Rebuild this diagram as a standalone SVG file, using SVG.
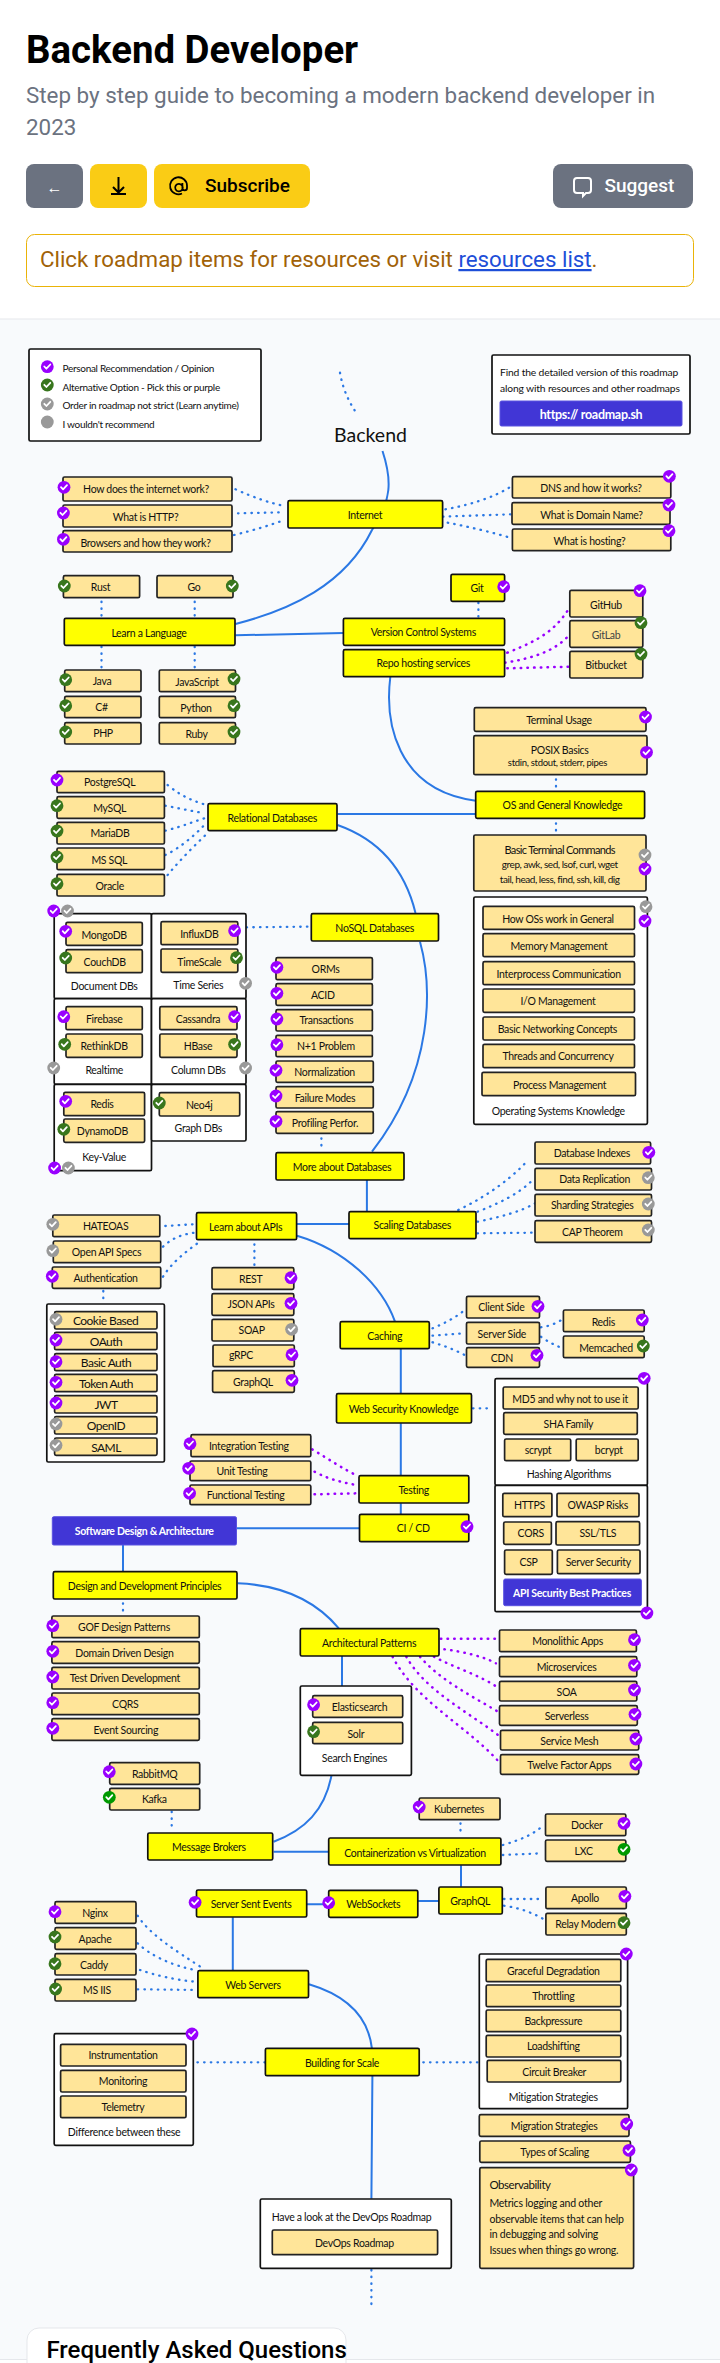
<svg xmlns="http://www.w3.org/2000/svg" width="720" height="2363" viewBox="0 0 720 2363">
<style>
text{font-family:Lato,"Liberation Sans",sans-serif;font-size:10.500px;letter-spacing:-.3px;fill:#111;text-anchor:middle;dominant-baseline:central}
.r{font-family:Roboto,"Liberation Sans",sans-serif;text-anchor:start;dominant-baseline:auto;letter-spacing:0}
.s{text-anchor:start}
.lg{font-size:10px}
.rb{font-size:10.300px;letter-spacing:-.15px}
.au{font-size:12px;letter-spacing:-.55px}
.ob{letter-spacing:-.2px}
.wh{fill:#fff;font-weight:700}
rect.y,rect.t,rect.w,rect.b{stroke-width:1.7;rx:1.5px}
rect.y{fill:#ff0;stroke:#111}
rect.t{fill:#ffe599;stroke:#222}
rect.w{fill:#fff;stroke:#111}
rect.b{fill:#4136d6;stroke:#5b52e0;stroke-width:1}
.sl{fill:none;stroke:#2b78e4;stroke-width:2}
.db{fill:none;stroke:#2b78e4;stroke-width:2.300;stroke-linecap:round;stroke-dasharray:.5 6.200}
.dp{fill:none;stroke:#90f;stroke-width:2.500;stroke-linecap:round;stroke-dasharray:.5 6.200}
.tk{fill:none;stroke:#fff;stroke-width:1.800;stroke-linecap:round;stroke-linejoin:round}
</style>
<defs>
<g id="p"><circle r="6.400" fill="#90f"/><path class="tk" d="M-3-.2-.9 2 3-2.200"/></g>
<g id="g"><circle r="6.400" fill="#38761d"/><path class="tk" d="M-3-.2-.9 2 3-2.200"/></g>
<g id="h"><circle r="6.400" fill="#090"/><path class="tk" d="M-3-.2-.9 2 3-2.200"/></g>
<g id="x"><circle r="6.400" fill="#999"/><path class="tk" d="M-3-.2-.9 2 3-2.200"/></g>
</defs>
<rect width="720" height="2363" fill="#fff"/>
<rect y="319" width="720" height="2040" fill="#f8fafc"/>
<path d="M0 319H720M0 2359.500H720" stroke="#e5e7eb" stroke-width="1" fill="none"/>
<g id="header">
<text class="r" x="26" y="63" style="font-size:38.400px;font-weight:700;fill:#000">Backend Developer</text>
<text class="r" x="26" y="103" style="font-size:22.400px;fill:#6b7280">Step by step guide to becoming a modern backend developer in</text>
<text class="r" x="26" y="135" style="font-size:22.400px;fill:#6b7280">2023</text>
<rect x="26" y="164" width="57" height="44" rx="8" fill="#6b7280"/>
<text x="54.500" y="187" style="font-family:Roboto,sans-serif;font-size:16px;fill:#fff;letter-spacing:0">←</text>
<rect x="90" y="164" width="57" height="44" rx="8" fill="#facc15"/>
<path d="M118.500 177V192M113 187l5.500 5.500L124 187M111 194H126" fill="none" stroke="#000" stroke-width="2"/>
<rect x="154" y="164" width="156" height="44" rx="8" fill="#facc15"/>
<path d="M186 192.500A8.500 8.500 0 1 1 191 184.500V187A2.300 2.300 0 0 1 186.400 187V182M186.400 185A3.800 3.800 0 1 1 186.300 184.800" fill="none" stroke="#000" stroke-width="1.800" transform="translate(-4 1)"/>
<text class="r" x="205" y="192" style="font-size:19px;font-weight:500;fill:#000">Subscribe</text>
<rect x="553" y="164" width="140" height="44" rx="8" fill="#6b7280"/>
<path d="M577 178H588A3 3 0 0 1 591 181V190A3 3 0 0 1 588 193H586L583 196V193H577A3 3 0 0 1 574 190V181A3 3 0 0 1 577 178Z" fill="none" stroke="#fff" stroke-width="2"/>
<text class="r" x="604.500" y="192" style="font-size:19px;font-weight:500;fill:#fff">Suggest</text>
<rect x="26.500" y="234.500" width="667" height="52" rx="8" fill="#fff" stroke="#eab308"/>
<text class="r" x="40" y="267" style="font-size:22.300px;fill:#a16207">Click roadmap items for resources or visit <tspan style="fill:#1d4ed8" text-decoration="underline">resources list</tspan>.</text>
</g>
<g id="connectors">
<path class="db" d="M340 372.700C343 390 349 402 357 414"/>
<path class="sl" d="M382.500 451C392 480 392 500 372 530C345 585 290 610 235.500 624"/>
<path class="db" d="M235.500 489.300C255 498 270 503 284.700 506M238 513.300 284.700 512.300M234 535C255 530 270 525 284.700 520"/>
<path class="db" d="M445.400 509.300C470 505 495 497 510.500 486.700M443 516.700 510.500 514.300M447.700 522.700C470 527 495 533 512 538.300"/>
<path class="db" d="M101.500 601.700V617M194.700 601.700V617M101.500 646.700V669.300M194.700 646.700V669.300M478.400 602.700V617.700M556 779.300V790M556 823.300V833.300"/>
<path class="sl" d="M235.500 635.300 343.400 633M390.300 677C385 720 395 790 475.700 800.700M337.500 814H475.700"/>
<path class="dp" d="M507.300 652.700C540 640 555 630 568 610M505 662.700C535 658 555 650 567 637.300M507.300 668.300 569.300 666.700"/>
<path class="db" d="M167.600 785C180 795 190 800 204.300 804.300M165.300 805.700 204.300 813.300M165.300 830.700C180 827 190 823 204.300 818.300M165.300 855C180 848 195 835 204.300 825M167.600 875C180 860 195 845 209 831.700M246.600 927.300 307.600 926.700"/>
<path class="sl" d="M337.500 825C380 840 405 870 415.500 913M420 941.700C432 985 435 1070 372 1151.700M366.900 1180V1211.700"/>
<path class="db" d="M321.400 1138.300V1149.300M458.200 1210C490 1195 515 1175 528 1160M477.500 1211.700C500 1203 520 1193 532.600 1180M477.500 1221.700C500 1217 520 1212 535 1203.300M477.500 1233.300 532.600 1232.700"/>
<path class="sl" d="M349 1224H297M297 1235.700C345 1250 382 1285 395 1321.700"/>
<path class="db" d="M165.300 1226 192.800 1224.300M163 1246.700C172 1238 183 1234 195 1232.700M163 1276.700C172 1262 188 1250 199.700 1241.700M103.300 1291V1301.700M254.400 1244.300V1266.700"/>
<path class="db" d="M432.500 1328.300C445 1323 455 1318 464.700 1310M432.500 1335.700 464.700 1333.300M432.500 1342.300C445 1346 455 1350 464.700 1355M540.900 1327.300C550 1326 557 1323 562.400 1319.300M540.900 1336.700C548 1342 555 1345 562.400 1348.300M473 1408.300H489.400"/>
<path class="sl" d="M400.800 1348.700V1393.300M400.800 1423.300V1475.700M400.800 1503.300V1514M236.500 1528.300H359.500M123 1545V1571"/>
<path class="dp" d="M312.200 1449.300C330 1460 345 1470 358 1476M314.500 1471.700C330 1480 345 1483 358 1485.300M314.500 1494.300 358 1493.300"/>
<path class="db" d="M123 1603.300V1613.300M171.700 1811.700V1830M460.500 1823.300V1835"/>
<path class="sl" d="M237.800 1583.300C280 1585 315 1600 338.800 1628.300M342 1656V1686M331.500 1775.300C325 1810 305 1830 273.600 1841.700M273.600 1851.700H328.700M461 1865.300V1886.700M417.800 1901H438.900M306.700 1904.300H328.700M232.800 1917.300V1970"/>
<path class="dp" d="M440.800 1638.700H495M444.400 1649.300C465 1652 485 1657 495.900 1663.300M433.900 1656.700C455 1668 480 1675 499 1688.300M420 1656.700C440 1680 470 1695 498 1711.700M406.300 1656.700C425 1690 465 1710 498 1735M392.600 1656.700C415 1700 465 1725 497.200 1760"/>
<path class="db" d="M502.800 1845C520 1840 532 1835 541.800 1826.700M502.800 1855 541.800 1853.300M504 1899H544M504 1905.700C520 1908 533 1913 544 1919.300"/>
<path class="db" d="M137.700 1915.700C150 1935 175 1950 204.300 1969.300M137.700 1943.300C150 1955 170 1965 195 1970M140 1970C155 1975 175 1980 195 1981.700M137.700 1989.300 197.400 1990"/>
<path class="sl" d="M309 1984.300C345 1995 368 2015 371.900 2048.300M372.400 2075.700 371.400 2198.700"/>
<path class="db" d="M197.400 2062.300H265.400M423.300 2062.300H477.500M371.400 2270V2305"/>
</g>
<g id="legend"><rect class="w" x="29" y="349" width="232" height="92"/>
<use href="#p" x="47.300" y="366.700"/><use href="#g" x="47.300" y="385"/><use href="#x" x="47.300" y="404"/><circle cx="47.300" cy="422" r="6.400" fill="#999"/>
<text class="s lg" x="62.500" y="368">Personal Recommendation / Opinion</text>
<text class="s lg" x="62.500" y="387">Alternative Option - Pick this or purple</text>
<text class="s lg" x="62.500" y="405">Order in roadmap not strict (Learn anytime)</text>
<text class="s lg" x="62.500" y="424">I wouldn't recommend</text></g>
<g id="link-box"><rect class="w" x="492" y="355" width="198" height="79"/>
<text class="s rb" x="500" y="372">Find the detailed version of this roadmap</text>
<text class="s rb" x="500" y="388">along with resources and other roadmaps</text>
<rect class="b" x="500" y="401" width="182" height="25"/><text class="wh" x="591" y="414" style="font-size:12.500px">https:// roadmap.sh</text></g>
<g id="backend"><text x="370.500" y="434" style="font-size:19.500px;letter-spacing:0">Backend</text></g>
<g id="internet"><rect class="y" x="288" y="500.700" width="154.600" height="27.300"/><text x="365" y="514.500">Internet</text></g>
<g id="how-internet"><rect class="t" x="63" y="477" width="169" height="24"/><text x="146" y="488.700">How does the internet work?</text><use href="#p" x="64" y="487.300"/></g>
<g id="http"><rect class="t" x="63" y="505" width="169" height="22"/><text x="145.500" y="516.700">What is HTTP?</text><use href="#p" x="63.400" y="513"/></g>
<g id="browsers"><rect class="t" x="63" y="530.700" width="169" height="21.300"/><text x="145.500" y="542.700">Browsers and how they work?</text><use href="#p" x="63.400" y="539.300"/></g>
<g id="dns"><rect class="t" x="512.400" y="476.700" width="158.400" height="21.300"/><text x="591" y="487.700">DNS and how it works?</text><use href="#p" x="669.400" y="476.300"/></g>
<g id="domain"><rect class="t" x="512" y="502.700" width="158" height="21.600"/><text x="591.400" y="515">What is Domain Name?</text><use href="#p" x="669" y="505"/></g>
<g id="hosting"><rect class="t" x="512.400" y="529" width="158.400" height="21.700"/><text x="589.500" y="540.700">What is hosting?</text><use href="#p" x="669" y="530.700"/></g>
<g id="rust"><rect class="t" x="63.400" y="575.700" width="76.200" height="22"/><text x="100.500" y="586.700">Rust</text><use href="#g" x="64.300" y="586"/></g>
<g id="go"><rect class="t" x="157" y="575.700" width="76" height="22"/><text x="194" y="586.500">Go</text><use href="#g" x="232.300" y="586"/></g>
<g id="language"><rect class="y" x="64.300" y="618.300" width="170.700" height="27"/><text x="149" y="632.700">Learn a Language</text></g>
<g id="java"><rect class="t" x="64.700" y="670" width="76.300" height="21.700"/><text x="102" y="680.700">Java</text><use href="#g" x="65.700" y="679.700"/></g>
<g id="csharp"><rect class="t" x="64.700" y="696.300" width="76.300" height="21.400"/><text x="101.500" y="706.700">C#</text><use href="#g" x="65.700" y="705.700"/></g>
<g id="php"><rect class="t" x="64.700" y="722.700" width="76.300" height="21.300"/><text x="103" y="733.300">PHP</text><use href="#g" x="65.700" y="732"/></g>
<g id="javascript"><rect class="t" x="159.300" y="670" width="76.200" height="21.700"/><text x="197" y="681.700">JavaScript</text><use href="#g" x="234" y="679"/></g>
<g id="python"><rect class="t" x="159.300" y="696.300" width="76.200" height="21.400"/><text x="196" y="707.700">Python</text><use href="#g" x="234" y="705.700"/></g>
<g id="ruby"><rect class="t" x="159.300" y="722.700" width="76.200" height="21.300"/><text x="196.500" y="733.700">Ruby</text><use href="#g" x="234" y="732"/></g>
<g id="git"><rect class="y" x="451" y="574.300" width="53.600" height="27"/><text x="477" y="587.700">Git</text><use href="#p" x="503.700" y="586.700"/></g>
<g id="vcs"><rect class="y" x="343.400" y="618.300" width="161.200" height="27"/><text x="423.300" y="631.700">Version Control Systems</text></g>
<g id="repo"><rect class="y" x="343.400" y="649.700" width="161.200" height="27"/><text x="423.300" y="662.700">Repo hosting services</text></g>
<g id="github"><rect class="t" x="569.800" y="590.300" width="73" height="26.700"/><text x="606" y="604.700">GitHub</text><use href="#p" x="640" y="590.700"/></g>
<g id="gitlab"><rect class="t" x="569.800" y="620.700" width="73" height="26.600"/><text x="606" y="634.700" style="fill:#444">GitLab</text><use href="#g" x="641" y="622.700"/></g>
<g id="bitbucket"><rect class="t" x="569.800" y="651.300" width="73" height="26.700"/><text x="606" y="664.700">Bitbucket</text><use href="#g" x="641" y="654"/></g>
<g id="terminal"><rect class="t" x="474.300" y="707.700" width="171.700" height="23.600"/><text x="559" y="719.700">Terminal Usage</text><use href="#p" x="645.500" y="717"/></g>
<g id="posix"><rect class="t" x="473.800" y="735.700" width="173.200" height="39"/><text x="559.700" y="749.700">POSIX Basics</text><text x="557.400" y="762.300" style="font-size:9.500px">stdin, stdout, stderr, pipes</text><use href="#p" x="646.500" y="752.300"/></g>
<g id="os"><rect class="y" x="475.700" y="791.300" width="168.900" height="27"/><text x="562.400" y="804.700">OS and General Knowledge</text></g>
<g id="commands"><rect class="t" x="473.800" y="835" width="172.200" height="56"/><text x="559.700" y="849.300" style="font-size:11px;letter-spacing:-.65px">Basic Terminal Commands</text><text x="559.700" y="864" style="font-size:10px;letter-spacing:-.45px">grep, awk, sed, lsof, curl, wget</text><text x="559.700" y="879" style="font-size:10px;letter-spacing:-.45px">tail, head, less, find, ssh, kill, dig</text><use href="#x" x="645" y="855"/><use href="#p" x="645" y="869"/></g>
<g id="os-box"><rect class="w" x="473.800" y="897" width="173.600" height="227.300"/><text x="558.300" y="1110.700">Operating Systems Knowledge</text></g>
<g id="os-general"><rect class="t" x="483" y="906.300" width="151.500" height="23"/><text x="558" y="918.700">How OSs work in General</text><use href="#x" x="646" y="906.700"/><use href="#p" x="645" y="921"/></g>
<g id="memory"><rect class="t" x="483" y="933.700" width="151.500" height="23"/><text x="559" y="945.700">Memory Management</text></g>
<g id="ipc"><rect class="t" x="483" y="961.700" width="151.500" height="23"/><text x="558.700" y="973.700">Interprocess Communication</text></g>
<g id="io"><rect class="t" x="483" y="989" width="151.500" height="23.300"/><text x="558" y="1000.700">I/O Management</text></g>
<g id="networking"><rect class="t" x="483" y="1017" width="151.500" height="23"/><text x="557.400" y="1028.700">Basic Networking Concepts</text></g>
<g id="threads"><rect class="t" x="483" y="1044.300" width="151.500" height="23.400"/><text x="558" y="1056">Threads and Concurrency</text></g>
<g id="process"><rect class="t" x="482" y="1072.300" width="153.500" height="23.400"/><text x="559.700" y="1084.700">Process Management</text></g>
<g id="postgres"><rect class="t" x="57" y="771.300" width="107.400" height="21.400"/><text x="109.700" y="781.700">PostgreSQL</text><use href="#p" x="57" y="780"/></g>
<g id="mysql"><rect class="t" x="57" y="796.700" width="107.400" height="21.600"/><text x="109.700" y="807.700">MySQL</text><use href="#g" x="57" y="805.700"/></g>
<g id="mariadb"><rect class="t" x="57" y="822.300" width="107.400" height="21.700"/><text x="110" y="833.300">MariaDB</text><use href="#g" x="57" y="831"/></g>
<g id="mssql"><rect class="t" x="57" y="848" width="107.400" height="21.700"/><text x="109.300" y="859.700">MS SQL</text><use href="#g" x="57" y="857"/></g>
<g id="oracle"><rect class="t" x="57" y="874.300" width="107.400" height="21.700"/><text x="109.700" y="885.700">Oracle</text><use href="#g" x="57" y="883.700"/></g>
<g id="relational"><rect class="y" x="208" y="803.700" width="129" height="27"/><text x="272.300" y="817.700">Relational Databases</text></g>
<g id="nosql"><rect class="y" x="311.300" y="913.700" width="127.200" height="27.300"/><text x="374.700" y="927.700">NoSQL Databases</text></g>
<g id="doc-db"><rect class="w" x="54.200" y="913.700" width="97.300" height="85"/><text x="104.200" y="985.700">Document DBs</text></g>
<g id="ts-db"><rect class="w" x="151.500" y="913.700" width="94.500" height="85"/><text x="198.300" y="984.700">Time Series</text></g>
<g id="rt-db"><rect class="w" x="54.200" y="998.700" width="97.300" height="85.600"/><text x="104.200" y="1069.700">Realtime</text></g>
<g id="col-db"><rect class="w" x="151.500" y="998.700" width="94.500" height="85.600"/><text x="198.300" y="1069.700">Column DBs</text></g>
<g id="kv-db"><rect class="w" x="54.200" y="1084.300" width="97.300" height="86.400"/><text x="104.200" y="1156.700">Key-Value</text></g>
<g id="graph-db"><rect class="w" x="151.500" y="1084.300" width="94.500" height="56.700"/><text x="198.300" y="1127.700">Graph DBs</text></g>
<g id="db-marks"><use href="#p" x="53.700" y="911"/><use href="#x" x="67.500" y="911"/><use href="#x" x="245.600" y="983.300"/><use href="#x" x="53.700" y="1068"/><use href="#x" x="245.600" y="1068"/><use href="#p" x="54.600" y="1168"/><use href="#x" x="68.400" y="1168"/></g>
<g id="mongodb"><rect class="t" x="66" y="922.300" width="76.300" height="23"/><text x="104.200" y="934.700">MongoDB</text><use href="#p" x="65.700" y="931.300"/></g>
<g id="couchdb"><rect class="t" x="66" y="949.700" width="76.300" height="23"/><text x="104.700" y="962.300">CouchDB</text><use href="#g" x="65.700" y="958"/></g>
<g id="influxdb"><rect class="t" x="161" y="921.700" width="76.800" height="23"/><text x="199.300" y="933.700">InfluxDB</text><use href="#p" x="234.600" y="930.700"/></g>
<g id="timescale"><rect class="t" x="161" y="949" width="76.800" height="23.300"/><text x="199.300" y="962">TimeScale</text><use href="#g" x="236.500" y="957.700"/></g>
<g id="firebase"><rect class="t" x="66" y="1006.700" width="76.300" height="23"/><text x="104.200" y="1018.700">Firebase</text><use href="#p" x="63.800" y="1016.700"/></g>
<g id="rethinkdb"><rect class="t" x="66" y="1034" width="76.300" height="23.300"/><text x="104.200" y="1045.700">RethinkDB</text><use href="#g" x="64.700" y="1044.300"/></g>
<g id="cassandra"><rect class="t" x="159.800" y="1006.700" width="77.200" height="23"/><text x="198" y="1018.700">Cassandra</text><use href="#p" x="234.600" y="1016.700"/></g>
<g id="hbase"><rect class="t" x="159.800" y="1034" width="77.200" height="23.300"/><text x="198" y="1045.700">HBase</text><use href="#g" x="234.600" y="1044.300"/></g>
<g id="redis-db"><rect class="t" x="63.800" y="1092.300" width="80.800" height="23.400"/><text x="102" y="1103.700">Redis</text><use href="#p" x="65.700" y="1101.300"/></g>
<g id="dynamodb"><rect class="t" x="63.800" y="1119" width="80.800" height="23.300"/><text x="102.400" y="1130.700">DynamoDB</text><use href="#g" x="63.800" y="1129.300"/></g>
<g id="neo4j"><rect class="t" x="159.300" y="1092.700" width="80.400" height="23.300"/><text x="199.300" y="1104.700">Neo4j</text><use href="#g" x="159.300" y="1103"/></g>
<g id="orms"><rect class="t" x="276" y="957.700" width="96.400" height="22"/><text x="325.500" y="968.700">ORMs</text><use href="#p" x="276.900" y="967.300"/></g>
<g id="acid"><rect class="t" x="276" y="983.700" width="96.400" height="21.600"/><text x="322.800" y="994.700">ACID</text><use href="#p" x="276.900" y="993.300"/></g>
<g id="transactions"><rect class="t" x="276" y="1009.700" width="96.400" height="21.300"/><text x="326.400" y="1019.700">Transactions</text><use href="#p" x="276.900" y="1019"/></g>
<g id="nplus1"><rect class="t" x="276" y="1035.300" width="96.400" height="21.400"/><text x="326" y="1045.700">N+1 Problem</text><use href="#p" x="276.900" y="1044.700"/></g>
<g id="normalization"><rect class="t" x="276" y="1061" width="97.300" height="21.300"/><text x="324.600" y="1071.700">Normalization</text><use href="#p" x="276" y="1070.300"/></g>
<g id="failure"><rect class="t" x="276" y="1086.700" width="97.300" height="21.300"/><text x="325" y="1097.700">Failure Modes</text><use href="#p" x="276" y="1096"/></g>
<g id="profiling"><rect class="t" x="276" y="1111.700" width="97.300" height="21.600"/><text x="325" y="1122.700">Profiling Perfor.</text><use href="#p" x="276" y="1121.300"/></g>
<g id="more-db"><rect class="y" x="276" y="1152.700" width="128" height="27.300"/><text x="342" y="1166.700">More about Databases</text></g>
<g id="indexes"><rect class="t" x="535" y="1142" width="115.600" height="22"/><text x="591.800" y="1152.700">Database Indexes</text><use href="#p" x="648.800" y="1152.300"/></g>
<g id="replication"><rect class="t" x="535" y="1168.300" width="116.500" height="21.700"/><text x="594.600" y="1178.700">Data Replication</text><use href="#x" x="648.300" y="1177.700"/></g>
<g id="sharding"><rect class="t" x="535" y="1194.300" width="116.500" height="21.700"/><text x="592.300" y="1204.700">Sharding Strategies</text><use href="#x" x="648.300" y="1204"/></g>
<g id="cap"><rect class="t" x="535" y="1220.700" width="116.500" height="21.600"/><text x="592.300" y="1231.700">CAP Theorem</text><use href="#x" x="648.300" y="1230"/></g>
<g id="scaling-db"><rect class="y" x="349" y="1211.700" width="127" height="27"/><text x="412.300" y="1224.700">Scaling Databases</text></g>
<g id="apis"><rect class="y" x="196.500" y="1212.700" width="100.100" height="27"/><text x="245.600" y="1226.700">Learn about APIs</text></g>
<g id="hateoas"><rect class="t" x="52.800" y="1215" width="107" height="21.700"/><text x="105.600" y="1225.700">HATEOAS</text><use href="#x" x="52.800" y="1224.300"/></g>
<g id="openapi"><rect class="t" x="53.300" y="1241" width="107.400" height="21.700"/><text x="106.500" y="1252">Open API Specs</text><use href="#x" x="52.800" y="1250.700"/></g>
<g id="authentication"><rect class="t" x="52.300" y="1267" width="108.400" height="21.300"/><text x="105.600" y="1277.700">Authentication</text><use href="#p" x="52.300" y="1276.300"/></g>
<g id="auth-box"><rect class="w" x="46.800" y="1304" width="117.600" height="158"/></g>
<g id="cookie"><rect class="t" x="54.600" y="1311.700" width="102.400" height="17.300"/><text class="au" x="105.600" y="1320.300">Cookie Based</text><use href="#x" x="56" y="1319.300"/></g>
<g id="oauth"><rect class="t" x="54.600" y="1332.300" width="102.400" height="17.400"/><text class="au" x="106" y="1341">OAuth</text><use href="#p" x="56" y="1340"/></g>
<g id="basic-auth"><rect class="t" x="54.600" y="1353.700" width="102.400" height="17"/><text class="au" x="106" y="1362.700">Basic Auth</text><use href="#p" x="56" y="1361.700"/></g>
<g id="token"><rect class="t" x="54.600" y="1374.300" width="102.400" height="17.400"/><text class="au" x="106" y="1383">Token Auth</text><use href="#p" x="56" y="1382.300"/></g>
<g id="jwt"><rect class="t" x="54.600" y="1395.700" width="102.400" height="17.300"/><text class="au" x="106" y="1404">JWT</text><use href="#p" x="56" y="1403"/></g>
<g id="openid"><rect class="t" x="54.600" y="1416.700" width="102.400" height="17.300"/><text class="au" x="106" y="1425">OpenID</text><use href="#x" x="56" y="1424"/></g>
<g id="saml"><rect class="t" x="54.600" y="1438" width="102.400" height="17.300"/><text class="au" x="106" y="1447">SAML</text><use href="#x" x="56" y="1445.300"/></g>
<g id="rest"><rect class="t" x="212" y="1267.700" width="81.800" height="21.600"/><text x="250.700" y="1278.700">REST</text><use href="#p" x="291" y="1277.700"/></g>
<g id="json"><rect class="t" x="212" y="1293.700" width="81.800" height="21.600"/><text x="251" y="1304.300">JSON APIs</text><use href="#p" x="291" y="1303.300"/></g>
<g id="soap"><rect class="t" x="212" y="1319.300" width="81.800" height="21.700"/><text x="251.600" y="1330.300">SOAP</text><use href="#x" x="291.600" y="1329.300"/></g>
<g id="grpc"><rect class="t" x="213" y="1345" width="81.300" height="21.700"/><text x="241" y="1355.300">gRPC</text><use href="#p" x="292" y="1354.700"/></g>
<g id="graphql-api"><rect class="t" x="212.600" y="1370.700" width="81.700" height="21.600"/><text x="253" y="1381.700">GraphQL</text><use href="#p" x="292" y="1380.300"/></g>
<g id="caching"><rect class="y" x="340.200" y="1321.700" width="89.100" height="27"/><text x="384.800" y="1335.700">Caching</text></g>
<g id="client-side"><rect class="t" x="466.500" y="1296.300" width="73" height="21.700"/><text x="501.400" y="1306.700">Client Side</text><use href="#p" x="538" y="1306.300"/></g>
<g id="server-side"><rect class="t" x="466.500" y="1322.300" width="73" height="21.700"/><text x="501.800" y="1333.700">Server Side</text></g>
<g id="cdn"><rect class="t" x="466.500" y="1347.700" width="73" height="19.600"/><text x="501.800" y="1358">CDN</text><use href="#p" x="537" y="1355.300"/></g>
<g id="redis"><rect class="t" x="563.400" y="1310" width="80.800" height="21.700"/><text x="603.300" y="1321.700">Redis</text><use href="#p" x="642.300" y="1320"/></g>
<g id="memcached"><rect class="t" x="563.400" y="1336" width="80.800" height="21.700"/><text x="606" y="1347.700">Memcached</text><use href="#g" x="643.300" y="1346"/></g>
<g id="web-security"><rect class="y" x="336.500" y="1393.700" width="135" height="29.300"/><text x="403.600" y="1408.700">Web Security Knowledge</text></g>
<g id="sec-box"><rect class="w" x="495" y="1378.700" width="152.400" height="106.600"/><rect class="w" x="495" y="1485.300" width="152.400" height="126.400"/><text x="568.900" y="1474">Hashing Algorithms</text></g>
<g id="md5"><rect class="t" x="503.200" y="1387" width="135" height="22"/><text x="570.200" y="1398.700">MD5 and why not to use it</text></g>
<g id="sha"><rect class="t" x="503.700" y="1412.700" width="133.600" height="21.600"/><text x="568.400" y="1423.700">SHA Family</text></g>
<g id="scrypt"><rect class="t" x="504.600" y="1439" width="66.100" height="21.700"/><text x="538" y="1450">scrypt</text></g>
<g id="bcrypt"><rect class="t" x="576.200" y="1439" width="62" height="21.700"/><text x="608.800" y="1450">bcrypt</text></g>
<g id="https"><rect class="t" x="502.800" y="1493.300" width="49.100" height="23.400"/><text x="529.400" y="1505.300">HTTPS</text></g>
<g id="owasp"><rect class="t" x="557" y="1493.300" width="82" height="23.400"/><text x="597.800" y="1505.300">OWASP Risks</text></g>
<g id="cors"><rect class="t" x="503.700" y="1522" width="47.700" height="22.300"/><text x="530.800" y="1533.300">CORS</text></g>
<g id="ssl"><rect class="t" x="556" y="1521.700" width="83.600" height="23.300"/><text x="597.800" y="1533.300">SSL/TLS</text></g>
<g id="csp"><rect class="t" x="504.600" y="1550" width="47.700" height="24.300"/><text x="528.500" y="1562.300">CSP</text></g>
<g id="server-security"><rect class="t" x="557.400" y="1550" width="82.600" height="23.700"/><text x="598.300" y="1562.300">Server Security</text></g>
<g id="api-security"><rect class="b" x="503.700" y="1579" width="137.700" height="26.700"/><text class="wh" x="572" y="1592.700">API Security Best Practices</text></g>
<g id="sec-marks"><use href="#p" x="644.200" y="1378.300"/><use href="#p" x="646.900" y="1613"/></g>
<g id="integration"><rect class="t" x="191" y="1434.700" width="119.800" height="22"/><text x="248.900" y="1445.700">Integration Testing</text><use href="#p" x="190" y="1443.700"/></g>
<g id="unit"><rect class="t" x="190" y="1461" width="120.800" height="19.700"/><text x="242" y="1470.700">Unit Testing</text><use href="#p" x="188.700" y="1468.300"/></g>
<g id="functional"><rect class="t" x="190" y="1485" width="120.800" height="19.700"/><text x="245.600" y="1494.700">Functional Testing</text><use href="#p" x="189.600" y="1493.300"/></g>
<g id="testing"><rect class="y" x="359" y="1475.700" width="109.800" height="27.300"/><text x="413.700" y="1489.700">Testing</text></g>
<g id="cicd"><rect class="y" x="359.500" y="1514.300" width="109.300" height="27.400"/><text x="413.200" y="1528.300">CI / CD</text><use href="#p" x="467" y="1526.700"/></g>
<g id="software"><rect class="b" x="52.300" y="1516.700" width="184.200" height="28.300"/><text class="wh" x="144.200" y="1530.700">Software Design &amp; Architecture</text></g>
<g id="principles"><rect class="y" x="53.300" y="1571.700" width="183.700" height="27.300"/><text x="144.600" y="1585.700">Design and Development Principles</text></g>
<g id="gof"><rect class="t" x="51.900" y="1616" width="147.400" height="21.700"/><text x="124" y="1626.700">GOF Design Patterns</text><use href="#p" x="52.800" y="1625.700"/></g>
<g id="ddd"><rect class="t" x="51.900" y="1641.700" width="147.400" height="21.600"/><text x="124.400" y="1652.700">Domain Driven Design</text><use href="#p" x="52.800" y="1651.300"/></g>
<g id="tdd"><rect class="t" x="51.900" y="1667.300" width="147.400" height="21.700"/><text x="124.900" y="1678">Test Driven Development</text><use href="#p" x="52.800" y="1677"/></g>
<g id="cqrs"><rect class="t" x="51.900" y="1693" width="147.400" height="21.700"/><text x="125.300" y="1703.700">CQRS</text><use href="#p" x="52.800" y="1702.700"/></g>
<g id="event"><rect class="t" x="51.900" y="1718.700" width="147.400" height="21.600"/><text x="125.800" y="1729.700">Event Sourcing</text><use href="#p" x="52.800" y="1728.300"/></g>
<g id="arch"><rect class="y" x="300.300" y="1628.700" width="138.700" height="27.300"/><text x="369.100" y="1642.700">Architectural Patterns</text></g>
<g id="search-box"><rect class="w" x="300.300" y="1686" width="111.100" height="89.300"/><text x="354.400" y="1758">Search Engines</text></g>
<g id="elastic"><rect class="t" x="312.700" y="1695.700" width="90" height="21.600"/><text x="359.500" y="1706.700">Elasticsearch</text><use href="#p" x="313.600" y="1704.700"/></g>
<g id="solr"><rect class="t" x="312.700" y="1722.300" width="90" height="21.400"/><text x="355.800" y="1733.700">Solr</text><use href="#g" x="313.600" y="1731.700"/></g>
<g id="monolithic"><rect class="t" x="499.500" y="1630" width="136.900" height="21.700"/><text x="567.500" y="1640.700">Monolithic Apps</text><use href="#p" x="634.500" y="1639.700"/></g>
<g id="microservices"><rect class="t" x="499.500" y="1656.700" width="137.300" height="20"/><text x="566.600" y="1666.700">Microservices</text><use href="#p" x="634.500" y="1665.300"/></g>
<g id="soa"><rect class="t" x="499.500" y="1681.300" width="137.300" height="19.700"/><text x="566.600" y="1691.700">SOA</text><use href="#p" x="634.500" y="1690"/></g>
<g id="serverless"><rect class="t" x="499.500" y="1705.700" width="137.800" height="19.600"/><text x="566.600" y="1715.700">Serverless</text><use href="#p" x="635" y="1714.300"/></g>
<g id="mesh"><rect class="t" x="500.500" y="1730.300" width="138.200" height="19.700"/><text x="569.300" y="1740.700">Service Mesh</text><use href="#p" x="635.900" y="1739"/></g>
<g id="twelve"><rect class="t" x="500.500" y="1754.700" width="138.200" height="19.600"/><text x="569.300" y="1765">Twelve Factor Apps</text><use href="#p" x="635.900" y="1764"/></g>
<g id="rabbitmq"><rect class="t" x="109.700" y="1762.700" width="90" height="21.600"/><text x="154.700" y="1773.700">RabbitMQ</text><use href="#p" x="109.300" y="1771.700"/></g>
<g id="kafka"><rect class="t" x="109.700" y="1788.300" width="90" height="21.700"/><text x="154.300" y="1798.700">Kafka</text><use href="#h" x="109.300" y="1797.300"/></g>
<g id="brokers"><rect class="y" x="147.800" y="1833" width="124.900" height="27"/><text x="208.900" y="1847">Message Brokers</text></g>
<g id="containers"><rect class="y" x="328.700" y="1838" width="172.200" height="27"/><text x="415" y="1853">Containerization vs Virtualization</text></g>
<g id="kubernetes"><rect class="t" x="419.200" y="1798" width="80.800" height="21.700"/><text x="459.100" y="1808.700">Kubernetes</text><use href="#p" x="419.200" y="1807"/></g>
<g id="docker"><rect class="t" x="545.500" y="1814" width="80.300" height="21.700"/><text x="586.800" y="1824.700">Docker</text><use href="#p" x="624" y="1823.300"/></g>
<g id="lxc"><rect class="t" x="545.500" y="1840" width="80.300" height="21.300"/><text x="583.600" y="1850.700">LXC</text><use href="#h" x="624" y="1849.300"/></g>
<g id="graphql"><rect class="y" x="438.900" y="1887" width="63.400" height="27"/><text x="470.200" y="1901.300">GraphQL</text></g>
<g id="apollo"><rect class="t" x="545.900" y="1887" width="80.400" height="21.700"/><text x="585" y="1897.700">Apollo</text><use href="#p" x="624.900" y="1896.300"/></g>
<g id="relay"><rect class="t" x="545.900" y="1913.300" width="80.400" height="21.700"/><text x="585.400" y="1923.700">Relay Modern</text><use href="#g" x="624" y="1922.700"/></g>
<g id="websockets"><rect class="y" x="328.700" y="1890.300" width="89.100" height="27"/><text x="373.300" y="1903.700">WebSockets</text><use href="#p" x="328.700" y="1902.700"/></g>
<g id="sse"><rect class="y" x="196.500" y="1890" width="110.200" height="27"/><text x="251.100" y="1903.700">Server Sent Events</text><use href="#p" x="195.100" y="1902.300"/></g>
<g id="nginx"><rect class="t" x="55" y="1901.700" width="81" height="21.600"/><text x="95" y="1912.700">Nginx</text><use href="#p" x="55" y="1911.700"/></g>
<g id="apache"><rect class="t" x="55" y="1927.700" width="81" height="21.600"/><text x="95" y="1939">Apache</text><use href="#g" x="55" y="1937"/></g>
<g id="caddy"><rect class="t" x="55" y="1953.700" width="81" height="21.300"/><text x="94" y="1964.700">Caddy</text><use href="#g" x="55" y="1963.700"/></g>
<g id="msiis"><rect class="t" x="55" y="1979.300" width="81" height="21.700"/><text x="96.900" y="1990.300">MS IIS</text><use href="#g" x="55.600" y="1989"/></g>
<g id="webservers"><rect class="y" x="197.900" y="1970.700" width="110.600" height="27"/><text x="253" y="1984.700">Web Servers</text></g>
<g id="scale"><rect class="y" x="265.400" y="2048.300" width="153.800" height="27.400"/><text x="342" y="2062.700">Building for Scale</text></g>
<g id="diff-box"><rect class="w" x="54.200" y="2033.700" width="139.100" height="111.600"/><text x="124" y="2131.700">Difference between these</text><use href="#p" x="192" y="2034"/></g>
<g id="instrumentation"><rect class="t" x="60.600" y="2044.300" width="125.400" height="21.700"/><text x="123" y="2054.700">Instrumentation</text></g>
<g id="monitoring"><rect class="t" x="60.600" y="2070.300" width="125.400" height="21.700"/><text x="123" y="2080.700">Monitoring</text></g>
<g id="telemetry"><rect class="t" x="60.600" y="2096" width="125.400" height="21.700"/><text x="123" y="2106.700">Telemetry</text></g>
<g id="mitigation-box"><rect class="w" x="479.300" y="1954" width="148.300" height="154.700"/><text x="553.300" y="2096.700">Mitigation Strategies</text><use href="#p" x="626.300" y="1954"/></g>
<g id="graceful"><rect class="t" x="486.200" y="1959.300" width="134.600" height="22.400"/><text x="553.300" y="1970.700">Graceful Degradation</text></g>
<g id="throttling"><rect class="t" x="486.200" y="1985" width="134.600" height="21.700"/><text x="553.300" y="1995.700">Throttling</text></g>
<g id="backpressure"><rect class="t" x="486.200" y="2010" width="134.600" height="21.700"/><text x="553.300" y="2020.700">Backpressure</text></g>
<g id="loadshifting"><rect class="t" x="486.200" y="2035.300" width="134.600" height="21.700"/><text x="553.300" y="2045.700">Loadshifting</text></g>
<g id="breaker"><rect class="t" x="487.200" y="2060.300" width="133.600" height="21.700"/><text x="554.200" y="2071.700">Circuit Breaker</text></g>
<g id="migration"><rect class="t" x="479.300" y="2114.700" width="149.700" height="21.600"/><text x="554.200" y="2125.700">Migration Strategies</text><use href="#p" x="626.700" y="2124"/></g>
<g id="types"><rect class="t" x="479.800" y="2141" width="150.600" height="21.300"/><text x="554.600" y="2151.700">Types of Scaling</text><use href="#p" x="629" y="2150.300"/></g>
<g id="observability"><rect class="t" x="479.800" y="2167.700" width="153.800" height="100.600"/><text class="s" x="489.400" y="2184" style="font-size:11.500px;letter-spacing:-.45px">Observability</text><text class="s ob" x="489.400" y="2202.700">Metrics logging and other</text><text class="s ob" x="489.400" y="2218.700">observable items that can help</text><text class="s ob" x="489.400" y="2234">in debugging and solving</text><text class="s ob" x="489.400" y="2250">Issues when things go wrong.</text><use href="#p" x="631.300" y="2170"/></g>
<g id="devops-box"><rect class="w" x="260.300" y="2199" width="191" height="69.300"/><text class="s" x="271.800" y="2216.700">Have a look at the DevOps Roadmap</text></g>
<g id="devops"><rect class="t" x="272.300" y="2230" width="165.300" height="24.700"/><text x="354.400" y="2242.700">DevOps Roadmap</text></g>
<g id="faq"><rect x="27" y="2328" width="319" height="50" rx="12" fill="#fff" stroke="#e5e7eb"/><text class="r" x="46.400" y="2358" style="font-size:24px;font-weight:500;fill:#000">Frequently Asked Questions</text></g>
</svg>
